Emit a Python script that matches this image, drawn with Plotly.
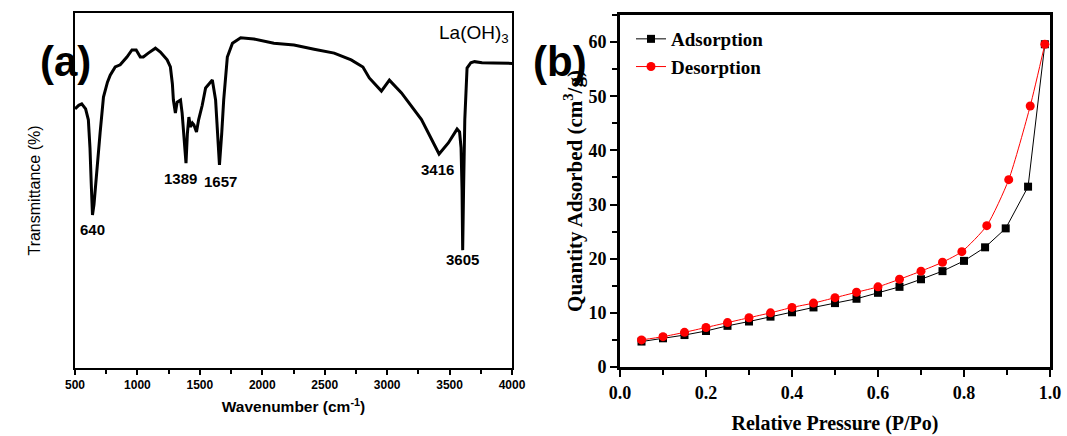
import plotly.graph_objects as go

# ---------- Panel (a): FTIR spectrum of La(OH)3 ----------
wavenumber = [500, 530, 554, 585, 607, 620, 630, 640, 652, 665, 680, 701, 728, 760, 782,
              822, 862, 890, 916, 956, 990, 1023, 1047, 1087, 1144, 1184, 1238, 1264, 1280,
              1288, 1304, 1318, 1345, 1358, 1375, 1389, 1400, 1412, 1425, 1440, 1452, 1473,
              1490, 1519, 1546, 1600, 1626, 1642, 1657, 1675, 1691, 1720, 1761, 1827, 1932,
              2093, 2254, 2415, 2576, 2712, 2806, 2857, 2913, 2954, 3018, 3115, 3275,
              3416, 3490, 3560, 3580, 3592, 3600, 3605, 3612, 3622, 3640, 3670, 3700,
              3760, 3850, 4000]
transmittance = [73.0, 74.0, 74.4, 73.0, 69.9, 62.0, 52.0, 43.1, 46.0, 52.0, 58.5, 66.2,
                 76.3, 80.5, 82.5, 84.8, 85.4, 86.5, 87.6, 89.6, 89.6, 87.6, 87.6, 88.7,
                 90.1, 89.0, 86.8, 84.8, 80.0, 75.5, 71.8, 74.9, 75.5, 71.8, 63.0, 57.7,
                 66.0, 70.7, 67.9, 69.0, 68.5, 66.5, 69.9, 74.0, 78.9, 81.1, 75.5, 66.0,
                 57.2, 66.0, 75.5, 87.6, 91.5, 93.0, 92.7, 91.5, 91.0, 89.8, 88.7, 86.8,
                 84.8, 81.7, 79.7, 78.0, 81.1, 77.5, 70.0, 60.3, 63.4, 67.3, 66.5, 62.0,
                 50.0, 33.2, 50.0, 70.0, 84.5, 86.0, 86.3, 86.0, 85.9, 85.8]
peak_labels = ["640", "1389", "1657", "3416", "3605"]
peak_x = [640, 1345, 1668, 3400, 3605]
peak_label_y = [39.0, 53.5, 52.5, 56.0, 30.6]

# ---------- Panel (b): N2 adsorption/desorption isotherm ----------
ads_p = [0.05, 0.10, 0.15, 0.20, 0.25, 0.30, 0.35, 0.40, 0.45, 0.50, 0.55, 0.60, 0.65,
         0.70, 0.75, 0.80, 0.849, 0.897, 0.949, 0.988]
ads_q = [4.7, 5.3, 5.9, 6.65, 7.6, 8.4, 9.3, 10.1, 11.0, 11.8, 12.6, 13.7, 14.8, 16.2,
         17.7, 19.6, 22.1, 25.6, 33.3, 59.6]
des_p = [0.05, 0.10, 0.15, 0.20, 0.25, 0.30, 0.35, 0.40, 0.45, 0.50, 0.55, 0.60, 0.65,
         0.70, 0.75, 0.795, 0.853, 0.904, 0.954, 0.988]
des_q = [5.0, 5.6, 6.4, 7.3, 8.2, 9.1, 10.0, 11.0, 11.8, 12.8, 13.8, 14.8, 16.2, 17.7,
         19.35, 21.3, 26.1, 34.6, 48.2, 59.6]

SANS = "Arial, Liberation Sans, sans-serif"
SERIF = "Times New Roman, Liberation Serif, serif"

W, H = 1067, 436


def fx(X):
    return X / W


def fy(Y):
    return 1 - Y / H


fig = go.Figure()

fig.add_trace(go.Scatter(x=wavenumber, y=transmittance, mode="lines",
                         line=dict(color="black", width=3),
                         xaxis="x", yaxis="y", showlegend=False))

fig.add_trace(go.Scatter(x=ads_p, y=ads_q, mode="lines+markers", name="Adsorption",
                         line=dict(color="black", width=1),
                         marker=dict(symbol="square", size=8, color="black"),
                         xaxis="x2", yaxis="y2"))
fig.add_trace(go.Scatter(x=des_p, y=des_q, mode="lines+markers", name="Desorption",
                         line=dict(color="red", width=1, shape="spline", smoothing=0.6),
                         marker=dict(symbol="circle", size=9, color="red"),
                         xaxis="x2", yaxis="y2"))

annotations = []
for lab, px, py in zip(peak_labels, peak_x, peak_label_y):
    annotations.append(dict(x=px, y=py, xref="x", yref="y", text=lab, showarrow=False,
                            font=dict(family=SANS, size=15, color="black", weight="bold")))
annotations.append(dict(x=3990, y=98, xref="x", yref="y", text="La(OH)<sub>3</sub>",
                        showarrow=False, xanchor="right", yanchor="top",
                        font=dict(family=SANS, size=19, color="black")))
annotations.append(dict(x=fx(38), y=fy(36), xref="paper", yref="paper", text="(a)",
                        showarrow=False, font=dict(family=SANS, size=42, color="black",
                                                   weight="bold")))
annotations.append(dict(x=fx(560), y=fy(36), xref="paper", yref="paper", text="(b)",
                        showarrow=False, font=dict(family=SANS, size=42, color="black",
                                                   weight="bold")))

fig.update_layout(
    width=W, height=H,
    margin=dict(l=0, r=0, t=0, b=0, autoexpand=False),
    paper_bgcolor="white", plot_bgcolor="white",
    annotations=annotations,
    xaxis=dict(domain=[fx(75), fx(512)], range=[500, 4000], dtick=500, tick0=500,
               automargin=False,
               showline=True, linewidth=2, linecolor="black", mirror=True,
               ticks="outside", ticklen=5, tickwidth=2, tickcolor="black",
               minor=dict(ticks="outside", ticklen=4, tickwidth=2, tickcolor="black", dtick=250),
               showgrid=False, zeroline=False,
               tickfont=dict(family=SANS, size=12, color="black", weight="bold"),
               title=dict(text="Wavenumber (cm<sup>-1</sup>)", standoff=10,
                          font=dict(family=SANS, size=15.5, color="black", weight="bold"))),
    yaxis=dict(domain=[fy(368), fy(13)], range=[0, 100], automargin=False,
               showline=True, linewidth=2, linecolor="black", mirror=True,
               ticks="", showticklabels=False, showgrid=False, zeroline=False,
               title=dict(text="Transmittance (%)", standoff=28,
                          font=dict(family=SANS, size=16, color="black"))),
    xaxis2=dict(domain=[fx(620), fx(1050)], range=[0, 1.0], dtick=0.2, tickformat=".1f",
                anchor="y2", automargin=False,
                showline=True, linewidth=3, linecolor="black", mirror=True,
                ticks="outside", ticklen=7, tickwidth=2, tickcolor="black",
                minor=dict(ticks="outside", ticklen=5, tickwidth=2, tickcolor="black", dtick=0.1),
                showgrid=False, zeroline=False,
                tickfont=dict(family=SERIF, size=18, color="black", weight="bold"),
                title=dict(text="Relative Pressure (P/Po)", standoff=15,
                           font=dict(family=SERIF, size=20, color="black", weight="bold"))),
    yaxis2=dict(domain=[fy(367), fy(15)], range=[0, 65], dtick=10, anchor="x2",
                automargin=False,
                showline=True, linewidth=3, linecolor="black", mirror=True,
                ticks="outside", ticklen=7, tickwidth=2, tickcolor="black",
                minor=dict(ticks="outside", ticklen=5, tickwidth=2, tickcolor="black", dtick=5),
                showgrid=False, zeroline=False,
                tickfont=dict(family=SERIF, size=18, color="black", weight="bold"),
                title=dict(text="Quantity Adsorbed (cm<sup>3</sup>/g)", standoff=1,
                           font=dict(family=SERIF, size=21, color="black", weight="bold"))),
    legend=dict(x=fx(631), y=fy(20), xanchor="left", yanchor="top",
                bgcolor="rgba(0,0,0,0)", borderwidth=0, tracegroupgap=0,
                font=dict(family=SERIF, size=19, color="black", weight="bold"),
                itemwidth=30),
)

fig.write_html("out.html",
               config={"displayModeBar": False},
               post_script="document.body.style.margin='0';"
                           "document.documentElement.style.overflow='hidden';"
                           "document.body.style.overflow='hidden';")
